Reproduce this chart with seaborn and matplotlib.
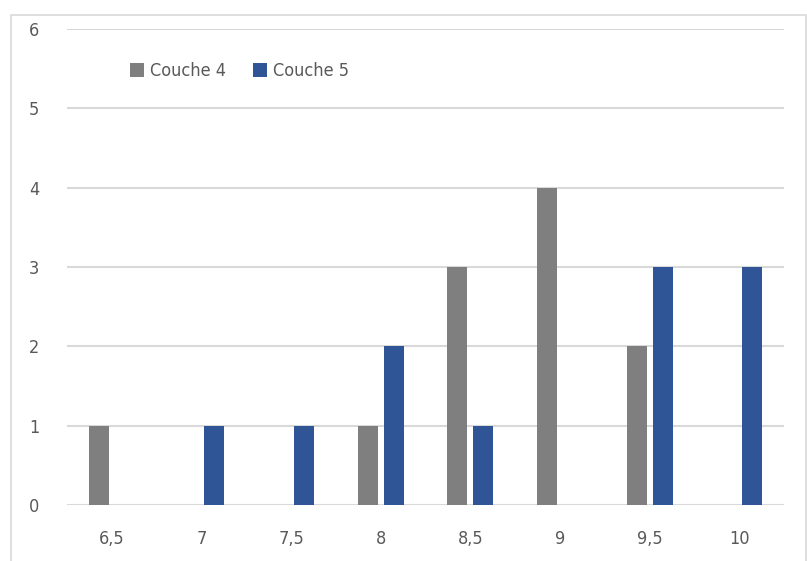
import matplotlib
matplotlib.use("Agg")
import matplotlib.pyplot as plt
from matplotlib.patches import Rectangle
import pandas as pd
import seaborn as sns

categories = ["6,5", "7", "7,5", "8", "8,5", "9", "9,5", "10"]
couche_4 = [1, 0, 0, 1, 3, 4, 2, 0]
couche_5 = [0, 1, 1, 2, 1, 0, 3, 3]
series_names = ["Couche 4", "Couche 5"]
colors = ["#7F7F7F", "#2F5597"]

df = pd.DataFrame({
    "cat": categories * 2,
    "val": couche_4 + couche_5,
    "serie": [series_names[0]] * len(categories) + [series_names[1]] * len(categories),
})

sns.set_style("white")
plt.rcParams["font.family"] = ["DejaVu Sans"]
plt.rcParams["font.stretch"] = "condensed"
text_color = "#595959"

fig = plt.figure(figsize=(8.07, 5.61), dpi=100)
ax = fig.add_axes([67 / 807, 56 / 561, 717 / 807, 476 / 561])

sns.barplot(data=df, x="cat", y="val", hue="serie", palette=colors,
            width=0.58, gap=0.23, ax=ax, order=categories, hue_order=series_names,
            saturation=1, linewidth=0)

ax.set_ylim(0, 6)
ax.set_xlim(-0.5, len(categories) - 0.5)
ax.set_yticks(range(0, 7))
ax.yaxis.grid(True, color="#D9D9D9", linewidth=1.5)
ax.set_axisbelow(True)
for s in ax.spines.values():
    s.set_visible(False)
ax.tick_params(axis="both", length=0, labelsize=13, labelcolor=text_color)
ax.tick_params(axis="y", pad=20)
ax.tick_params(axis="x", pad=18)
ax.set_xlabel("")
ax.set_ylabel("")

ax.legend(loc="upper left", bbox_to_anchor=(0.065, 0.965), ncol=2, frameon=False,
          fontsize=13, labelcolor=text_color, handlelength=0.8, handleheight=0.8,
          handletextpad=0.3, columnspacing=1.5)

fig.patches.append(Rectangle((11 / 807, -0.01), 795 / 807, 1 - 15 / 561 + 0.01,
                             transform=fig.transFigure, fill=False,
                             edgecolor="#D9D9D9", linewidth=1.2))

fig.savefig("out.png", dpi=100)
